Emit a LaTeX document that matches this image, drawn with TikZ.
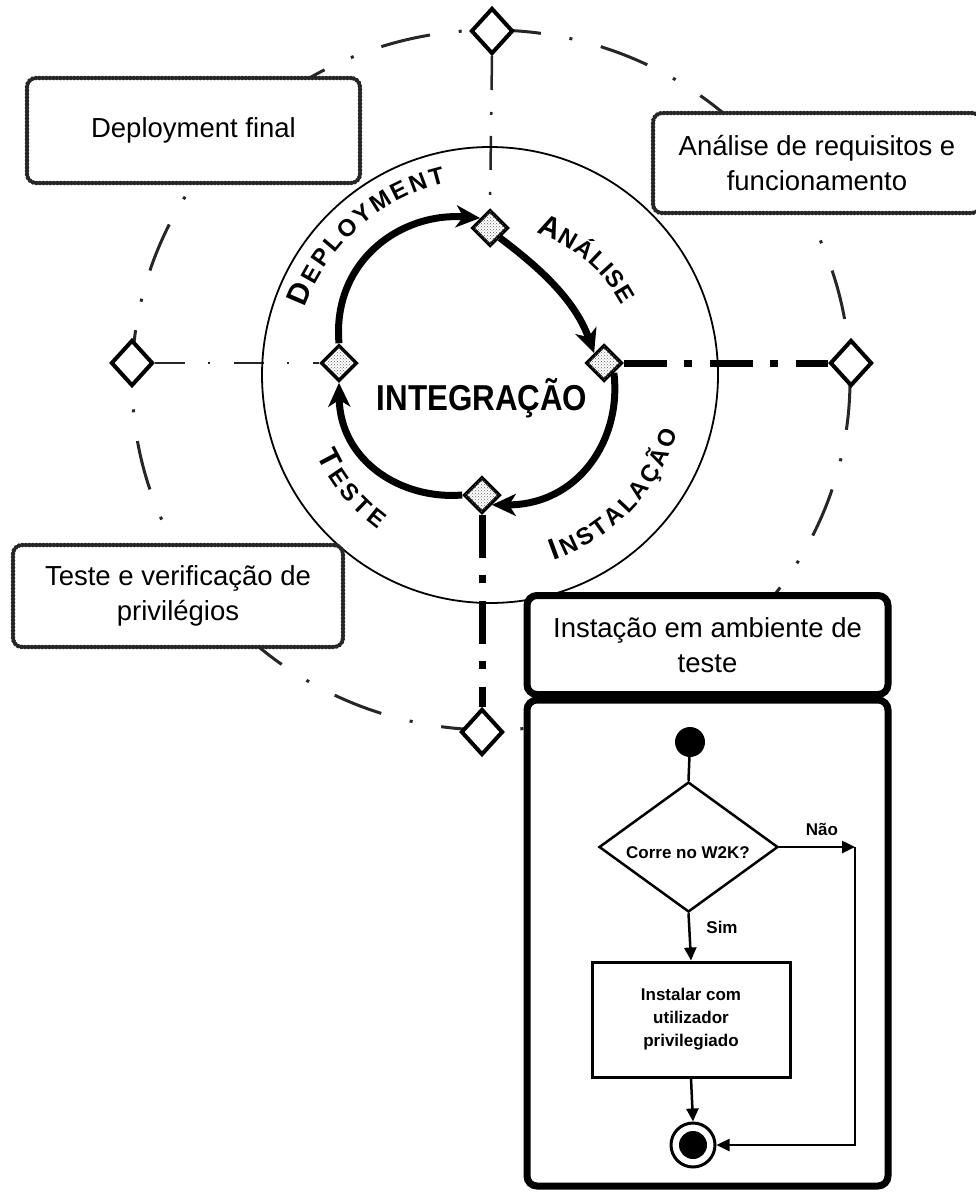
\documentclass[tikz,border=0pt]{standalone}
\usepackage{fontspec}
\setmainfont{Liberation Sans}
\usetikzlibrary{arrows.meta,shapes.geometric,decorations.text,patterns}
\pgfdeclarelayer{back}
\pgfsetlayers{back,main}

% letter sizes for the curved phase names (large initial, smaller rest)
\newcommand\ringbig{\fontsize{30}{30}\selectfont\bfseries}
\newcommand\ringsmall{\fontsize{24}{24}\selectfont\bfseries}

\begin{document}
\begin{tikzpicture}[x=1pt,y=1pt,
  ringdash/.style={line width=3pt, black!85, dash pattern=on 50pt off 29pt on 3pt off 29.4pt},
  beadbox/.style={draw=black!85, line width=4.5pt, dash pattern=on 0.1pt off 3.4pt, line cap=round,
    rounded corners=9pt, fill=white, align=center, inner sep=0pt, font=\fontsize{27.5}{35}\selectfont},
  thickbox/.style={draw, line width=7pt, rounded corners=10pt, fill=white, align=center, inner sep=0pt,
    font=\fontsize{27.5}{35}\selectfont},
  outerdia/.style={diamond, draw, line width=4pt, fill=white, minimum width=42pt, minimum height=46pt, inner sep=0pt},
  innerdia/.style={diamond, draw, line width=3.5pt, fill=white, minimum width=36pt, minimum height=36pt, inner sep=0pt,
    postaction={pattern=crosshatch dots, pattern color=black!60}},
  cyc/.style={line width=7pt, -{Stealth[length=24pt,width=22pt,inset=7pt]}},
  spokeR/.style={line width=7pt, dash pattern=on 43pt off 17pt on 8pt off 18pt},
  spokeT/.style={line width=2.5pt, black!85, dash pattern=on 34pt off 22pt on 3pt off 21pt},
  spokeL/.style={line width=1.6pt, black!85, dash pattern=on 30pt off 23pt on 2pt off 24pt},
  flowline/.style={line width=2.5pt},
  flow/.style={line width=2.5pt, -{Triangle[length=13pt,width=12pt]}},
  flowtext/.style={font=\fontsize{17}{23}\selectfont\bfseries, align=center},
  ringtext/.style={decorate, decoration={text along path, text align=fit to path, text={#1}}}
]
\useasboundingbox (0,0) rectangle (975,-1194);

% ---- diamonds on the outer ring and on the integration cycle
\node[outerdia] (ot) at (492,-31) {};
\node[outerdia] (ol) at (132,-363) {};
\node[outerdia] (or) at (851,-363) {};
\node[outerdia] (ob) at (482,-732) {};
\node[innerdia] (it) at (490,-228) {};
\node[innerdia] (ir) at (604,-363) {};
\node[innerdia] (il) at (339,-363) {};
\node[innerdia] (ib) at (482,-495) {};

\begin{pgfonlayer}{back}
  % outer dashed ring, one quarter between each pair of diamonds
  \draw[ringdash] (491,-30) arc[start angle=90,end angle=0,x radius=359,y radius=350];
  \draw[ringdash] (850,-380) arc[start angle=0,end angle=-90,x radius=359,y radius=350];
  \draw[ringdash] (491,-730) arc[start angle=270,end angle=180,x radius=359,y radius=350];
  \draw[ringdash] (132,-380) arc[start angle=180,end angle=90,x radius=359,y radius=350];
  % spokes from the cycle to the outer ring
  \draw[spokeT] (ot.south) -- (it.north);
  \draw[spokeL] (ol.east) -- (il.west);
  \draw[spokeR] (ir.east) -- (or.west);
  \draw[spokeR] (ib.south) -- (ob.north);
  % thin circle around the cycle
  \draw[line width=1.8pt] (490,-375) circle[radius=228];
  % the four cycle arrows
  \draw[cyc] (it.south east) .. controls (540,-268) and (575,-300) .. (ir.north west);
  \draw[cyc] (ir.south east) .. controls (622,-440) and (578,-505) .. (ib.south east);
  \draw[cyc] (ib.west) .. controls (400,-500) and (340,-460) .. (il.south);
  \draw[cyc] (il.north) .. controls (332,-262) and (400,-212) .. (it.north west);
\end{pgfonlayer}

% ---- phase names along the ring
\path[ringtext={|\ringbig|D|\ringsmall|EPLOYMENT}] (490,-375) ++(160:197) arc[start angle=160,end angle=103,radius=197];
\path[ringtext={|\ringbig|A|\ringsmall|NÁLISE}] (490,-375) ++(72:149) arc[start angle=72,end angle=28,radius=149];
\path[ringtext={|\ringbig|I|\ringsmall|NSTALAÇÃO}] (490,-375) ++(-71:196) arc[start angle=-71,end angle=-17,radius=196];
\path[ringtext={|\ringbig|T|\ringsmall|ESTE}] (490,-375) ++(205:191) arc[start angle=205,end angle=234,radius=191];

\node[anchor=base] (integ) at (482,-410) {\scalebox{0.87}[1]{\fontsize{36}{36}\selectfont\bfseries INTEGRAÇÃO}};

% ---- phase description boxes
\node[beadbox, minimum width=333pt, minimum height=105pt] (bdep) at (193.5,-130.5) {Deployment final};
\node[beadbox, minimum width=328pt, minimum height=100pt] (bana) at (817,-163) {Análise de requisitos e\\funcionamento};
\node[beadbox, minimum width=330pt, minimum height=102pt] (btst) at (178,-596) {Teste e verificação de\\privilégios};
\node[thickbox, minimum width=361pt, minimum height=99pt] (hdr) at (707.5,-645) {Instação em ambiente de\\teste};
\node[thickbox, minimum width=361pt, minimum height=486pt] (body) at (707.5,-943) {};

% ---- installation activity flow
\node[circle, fill=black, minimum size=30pt, inner sep=0pt] (ini) at (690,-742) {};
\node[diamond, draw, line width=2.5pt, fill=white, minimum width=179pt, minimum height=130pt, inner sep=0pt] (dec) at (688.5,-847) {};
\node[flowtext] (decq) at (688,-853) {Corre no W2K?};
\node[rectangle, draw, line width=3pt, minimum width=198pt, minimum height=115pt, flowtext] (act) at (691,-1019.5) {Instalar com\\utilizador\\privilegiado};
\node[circle, draw, line width=3pt, fill=white, minimum size=44pt, inner sep=0pt] (fin) at (693,-1145) {};
\node[circle, fill=black, minimum size=28pt, inner sep=0pt] (finc) at (fin.center) {};
\coordinate (loop) at (855,-847);

\draw[flowline] (ini) -- (dec.north);
\draw[flow] (dec.south) -- (act.north);
\draw[flow] (dec.east) -- (loop);
\draw[flow] (loop) |- (fin.east);
\draw[flow] (act.south) -- (fin.north);
\node[flowtext] (lsim) at (722,-927) {Sim};
\node[flowtext] (lnao) at (822,-829) {Não};
\end{tikzpicture}
\end{document}
